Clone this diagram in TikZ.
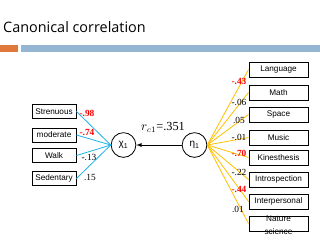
\documentclass[tikz,border=0pt]{standalone}
\usepackage{fontspec}
\setmainfont{Liberation Serif}
\newfontfamily\boxfont{Liberation Sans}
\newfontfamily\titlefont{Open Sans}
\definecolor{barorange}{HTML}{E0783A}
\definecolor{barblue}{HTML}{94B6D2}
\definecolor{lineblue}{HTML}{1FB4E6}
\definecolor{lineyellow}{HTML}{FFC000}
\begin{document}
\begin{tikzpicture}[x=0.03cm,y=-0.03cm,
  varbox/.style={draw,line width=0.8pt,minimum width=1.32cm,minimum height=0.42cm,inner sep=0pt,font=\boxfont\fontsize{7}{8}\selectfont},
  rbox/.style={varbox,minimum width=1.77cm,minimum height=0.45cm},
  latent/.style={draw,circle,line width=0.7pt,minimum size=0.74cm,inner sep=0pt,font=\boxfont\fontsize{8.5}{9}\selectfont},
  wt/.style={font=\fontsize{8}{9}\selectfont},
  wtred/.style={wt,text=red,font=\bfseries\fontsize{8}{9}\selectfont},
  blueline/.style={lineblue,line width=0.7pt},
  yellowline/.style={lineyellow,line width=0.7pt}]
\useasboundingbox (0,0) rectangle (320,240);

% title and bars
\node[anchor=west,inner sep=0pt,font=\titlefont\fontsize{12.3}{14}\selectfont] (title) at (3,27) {Canonical correlation};
\fill[barorange] (0,45) rectangle (18,52);
\fill[barblue] (21,45) rectangle (320,52);

% latent variables
\node[latent] (chi) at (123.5,145) {χ\textsubscript{1}};
\node[latent] (eta) at (194.5,145) {η\textsubscript{1}};
\draw[-latex,line width=0.6pt] (eta) -- (chi);
\node[font=\fontsize{10.5}{11}\selectfont] (rc) at (163,127) {$r_{c1}$=.351};

% left set
\node[varbox] (strenuous) at (54,111.5) {Strenuous};
\node[varbox] (moderate) at (54,135) {moderate};
\node[varbox] (walk) at (54,155.5) {Walk};
\node[varbox] (sedentary) at (54,178.5) {Sedentary};
\foreach \v in {strenuous,moderate,walk,sedentary}
  \draw[blueline] (\v.east) -- (chi.west);
\node[wtred] (w1) at (87,113) {-.98};
\node[wtred] (w2) at (87,132) {-.74};
\node[wt] (w3) at (89,157) {-.13};
\node[wt] (w4) at (90,177) {.15};

% right set
\node[rbox] (language) at (278.5,69.5) {Language};
\node[rbox] (math) at (278.5,92.5) {Math};
\node[rbox] (space) at (278.5,114.5) {Space};
\node[rbox] (music) at (278.5,137.5) {Music};
\node[rbox] (kin) at (278.5,157.5) {Kinesthesis};
\node[rbox] (intro) at (278.5,179.5) {Introspection};
\node[rbox] (inter) at (278.5,201.5) {Interpersonal};
\node[rbox] (nature) at (278.5,223.5) {};
\node[align=center,font=\boxfont\fontsize{7}{11}\selectfont] (naturetext) at (278.5,225) {Nature\\science};
\foreach \v in {language,math,space,music,kin,intro,inter,nature}
  \draw[yellowline] (eta.east) -- (\v.west);
\node[wtred] (u1) at (239,81) {-.43};
\node[wt] (u2) at (239,102) {-.06};
\node[wt] (u3) at (239,120) {.05};
\node[wt] (u4) at (239,137) {-.01};
\node[wtred] (u5) at (239,153) {-.70};
\node[wt] (u6) at (239,172) {-.22};
\node[wtred] (u7) at (239,189) {-.44};
\node[wt] (u8) at (238,209) {.01};
\end{tikzpicture}
\end{document}
